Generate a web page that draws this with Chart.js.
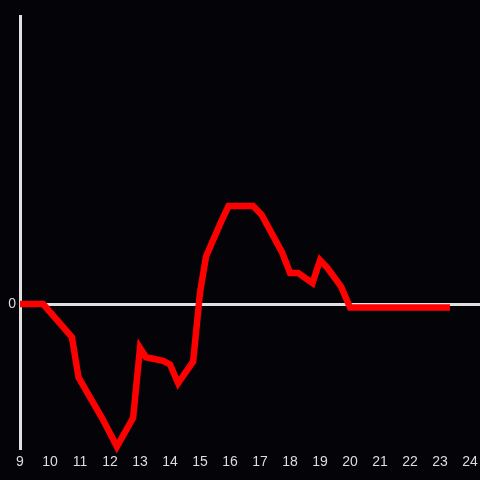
<!DOCTYPE html>
<html>
<head>
<meta charset="utf-8">
<script src="https://cdn.jsdelivr.net/npm/chart.js@4"></script>
<style>
  html, body { margin: 0; padding: 0; background: #040308; }
  #wrap { width: 480px; height: 480px; }
</style>
</head>
<body>
<div id="wrap"><canvas id="chart"></canvas></div>
<script>
// hour of day and value
const hours = [9, 9.77, 10.73, 10.95, 11.2, 11.73, 12.23, 12.77, 13.0, 13.2, 13.77, 14.0, 14.27, 14.77,
  15.0, 15.2, 15.7, 15.95, 16.77, 17.05, 17.73, 18.0, 18.27, 18.75, 19.0, 19.25, 19.7, 20.0, 23.33];
const values = [0, 0, -0.23, -0.51, -0.6, -0.79, -0.99, -0.79, -0.305, -0.37, -0.395, -0.42, -0.55, -0.40,
  0.08, 0.33, 0.57, 0.68, 0.68, 0.62, 0.36, 0.215, 0.215, 0.145, 0.305, 0.25, 0.12, -0.025, -0.025];
const xTicks = [9, 10, 11, 12, 13, 14, 15, 16, 17, 18, 19, 20, 21, 22, 23, 24];
const yTicks = [0];

const points = hours.map((h, i) => ({ x: h, y: values[i] }));

new Chart(document.getElementById('chart'), {
  type: 'line',
  data: {
    datasets: [{
      data: points,
      borderColor: '#ff0000',
      borderWidth: 6.5,
      pointRadius: 0,
      tension: 0,
      clip: false
    }]
  },
  options: {
    responsive: true,
    maintainAspectRatio: false,
    animation: false,
    layout: { padding: { top: 16, right: 0, left: 0, bottom: 0 } },
    plugins: { legend: { display: false }, tooltip: { enabled: false } },
    scales: {
      x: {
        type: 'linear',
        min: 9,
        max: 24.33,
        afterBuildTicks: (s) => { s.ticks = xTicks.map(v => ({ value: v })); },
        afterFit: (s) => { s.height = 32; s.paddingRight = 0; s.paddingLeft = 0; },
        grid: { display: false, drawTicks: false },
        border: { display: false },
        ticks: { color: '#dddddd', padding: 6, font: { family: 'Liberation Sans', size: 14 } }
      },
      y: {
        min: -1,
        max: 2,
        afterBuildTicks: (s) => { s.ticks = yTicks.map(v => ({ value: v })); },
        afterFit: (s) => { s.width = 20; },
        grid: { color: '#e0e0e0', lineWidth: 3, drawTicks: false },
        border: { display: true, color: '#e0e0e0', width: 3 },
        ticks: { color: '#dddddd', padding: 4, font: { family: 'Liberation Sans', size: 14 } }
      }
    }
  }
});
</script>
</body>
</html>
